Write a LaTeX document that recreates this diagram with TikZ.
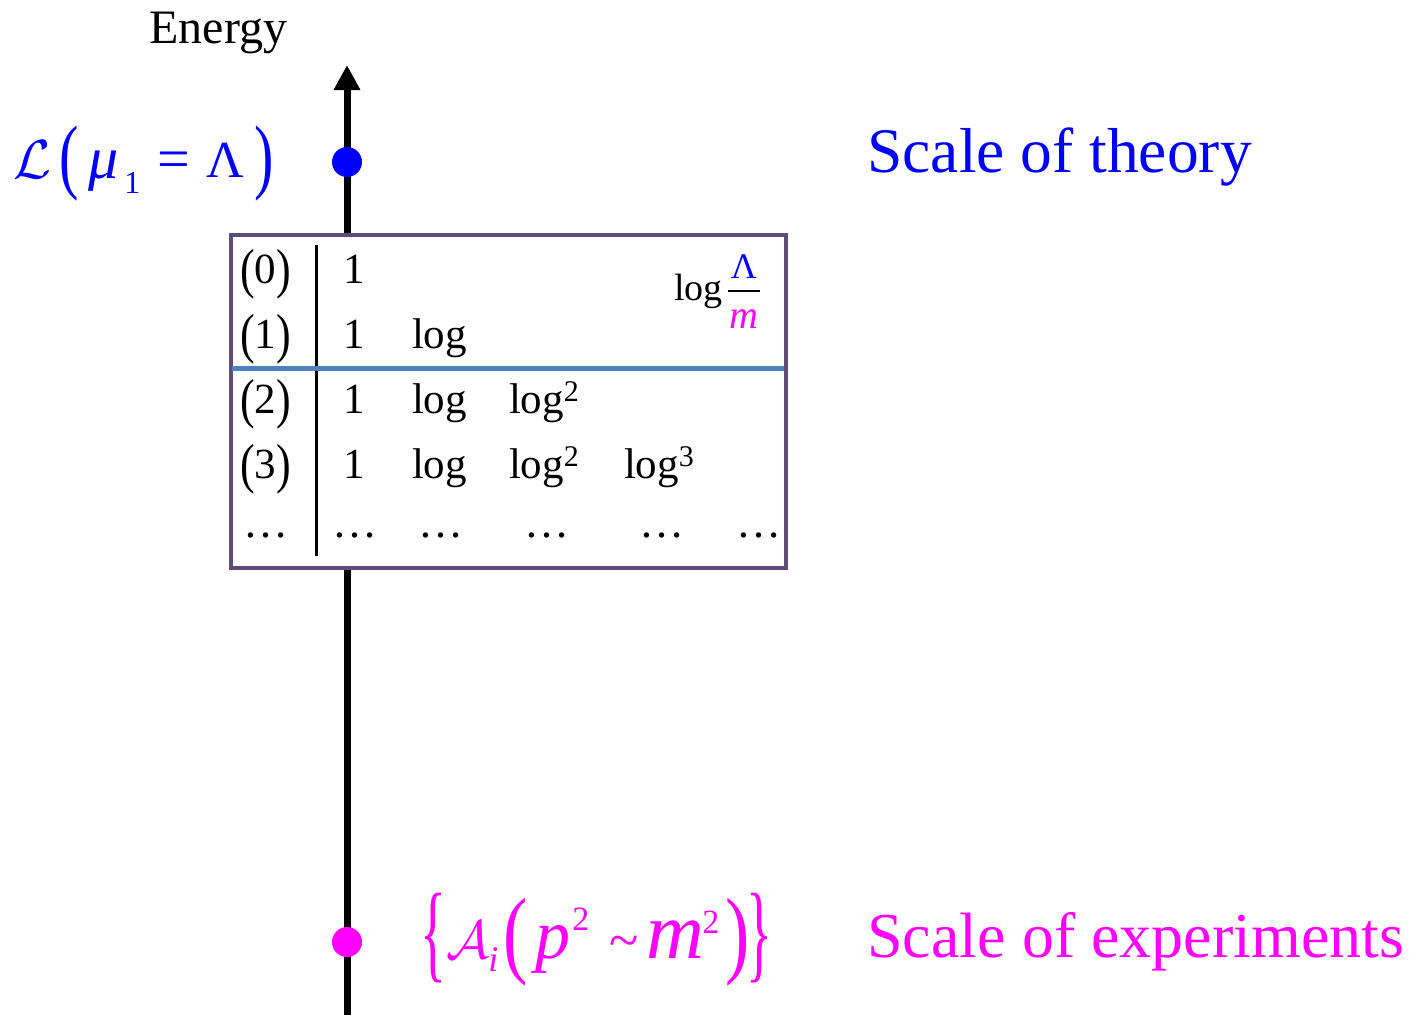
\documentclass[tikz,border=0pt]{standalone}
\usepackage{fontspec}
\setmainfont{Liberation Serif}
\usepackage{graphicx}
\usetikzlibrary{arrows.meta}
\definecolor{thblue}{RGB}{0,0,255}
\definecolor{exmag}{RGB}{255,0,255}
\definecolor{boxc}{RGB}{96,74,123}
\definecolor{sepc}{RGB}{79,129,189}
\newcommand\fs[1]{\fontsize{#1}{#1}\selectfont}
\newcommand\gl[4]{\rlap{\hspace*{#1pt}\raisebox{#2pt}{\fs{#3}#4}}}
\newcommand\lp{\raisebox{-4pt}{\fs{55}\scalebox{0.8}[1]{(}}}
\newcommand\rp{\raisebox{-4pt}{\fs{55}\scalebox{0.8}[1]{)}}}
\newcommand\sq[1]{\raisebox{12pt}{\fs{30}#1}}
\tikzset{
  txt/.style={inner sep=0pt, outer sep=0pt},
  axisline/.style={line width=7pt, -{Triangle[width=25pt,length=25pt]}},
  tablebox/.style={draw=boxc, line width=4pt, fill=white, inner sep=0pt,
    minimum width=555pt, minimum height=333pt},
  sepline/.style={draw=sepc, line width=5pt},
  colline/.style={draw=black, line width=2.5pt},
  fracbar/.style={draw=black, line width=2pt},
}
\begin{document}
\begin{tikzpicture}[x=1pt,y=-1pt]
\useasboundingbox (0,0) rectangle (1409,1015);
% axis
\coordinate (axisbot) at (347,1015);
\coordinate (axistop) at (347,65);
\draw[axisline] (axisbot) -- (axistop);
\node[txt, anchor=base west] (energy) at (149.4,43) {\fs{48}Energy};
% table box
\node[tablebox] (tbl) at (508,401) {};
\coordinate (vtop) at (316.5,245);
\coordinate (vbot) at (316.5,556);
\draw[colline] (vtop) -- (vbot);
\coordinate (sepL) at (232,368);
\coordinate (sepR) at (784,368);
\draw[sepline] (sepL) -- (sepR);
% row labels
\node[txt, anchor=base] (lab0) at (265.5,283) {\lp\fs{43}0\rp};
\node[txt, anchor=base] (lab1) at (265.5,348) {\lp\fs{43}1\rp};
\node[txt, anchor=base] (lab2) at (265.5,413) {\lp\fs{43}2\rp};
\node[txt, anchor=base] (lab3) at (265.5,478) {\lp\fs{43}3\rp};
\node[txt, anchor=base] (labd) at (266,537) {\fs{45}…};
% column 1
\node[txt, anchor=base] (one0) at (354.5,283) {\fs{43}1};
\node[txt, anchor=base] (one1) at (354.5,348) {\fs{43}1};
\node[txt, anchor=base] (one2) at (354.5,413) {\fs{43}1};
\node[txt, anchor=base] (one3) at (354.5,478) {\fs{43}1};
\node[txt, anchor=base] (oned) at (354.5,537) {\fs{45}…};
% column log
\node[txt, anchor=base west] (lg1) at (412,348) {\fs{43}log};
\node[txt, anchor=base west] (lg2) at (412,413) {\fs{43}log};
\node[txt, anchor=base west] (lg3) at (412,478) {\fs{43}log};
\node[txt, anchor=base] (lgd) at (441,537) {\fs{45}…};
% column log^2
\node[txt, anchor=base west] (lgs2) at (509,413) {\fs{43}log\sq{2}};
\node[txt, anchor=base west] (lgs3) at (509,478) {\fs{43}log\sq{2}};
\node[txt, anchor=base] (lgsd) at (547,537) {\fs{45}…};
% column log^3
\node[txt, anchor=base west] (lgc3) at (624,478) {\fs{43}log\sq{3}};
\node[txt, anchor=base] (lgcd) at (662,537) {\fs{45}…};
\node[txt, anchor=base] (lastd) at (759,537) {\fs{45}…};
% fraction log Lambda/m
\node[txt, anchor=base west] (flog) at (674,300) {\fs{38}log};
\node[txt, anchor=base, text=thblue] (fnum) at (744,278) {\fs{36}Λ};
\node[txt, anchor=base, text=exmag] (fden) at (744,328) {\fs{40}\itshape m};
\coordinate (fbarL) at (728,291);
\coordinate (fbarR) at (760,291);
\draw[fracbar] (fbarL) -- (fbarR);
% scale points
\fill[thblue] (347,162) circle[radius=15];
\fill[exmag] (347,942) circle[radius=15];
% theory formula
\node[txt, anchor=base west, text=thblue] (lagr) at (0,178) {%
\gl{13}{0}{10}{\scalebox{5.5}{$\mathcal{L}$}}%
\gl{59}{-5}{83}{\scalebox{0.7}[1]{(}}%
\gl{88}{0}{60}{\itshape μ}%
\gl{124}{-15}{32}{1}%
\gl{157}{0}{58}{=}%
\gl{206}{1}{52}{Λ}%
\gl{254}{-5}{83}{\scalebox{0.7}[1]{)}}};
% experiment formula
\node[txt, anchor=base west, text=exmag] (ampl) at (0,958) {%
\gl{419.6}{-10.4}{100}{\scalebox{0.54}[1.085]{\{}}%
\gl{446}{0}{10}{\scalebox{5.4}{$\mathcal{A}$}}%
\gl{488}{-13.5}{36}{\itshape i}%
\gl{503.5}{-7.6}{97}{\scalebox{0.75}[1]{(}}%
\gl{535}{0}{70}{\itshape p}%
\gl{572}{28}{34}{2}%
\gl{609}{0}{54}{\textasciitilde}%
\gl{646}{0}{80}{\itshape m}%
\gl{702}{25}{34}{2}%
\gl{725}{-7.6}{97}{\scalebox{0.75}[1]{)}}%
\gl{746}{-10.4}{100}{\scalebox{0.54}[1.085]{\}}}};
% right labels
\node[txt, anchor=base west, text=thblue] (sth) at (867.4,172) {\fs{63.5}Scale of theory};
\node[txt, anchor=base west, text=exmag] (sex) at (867.4,957) {\fs{64}Scale of experiments};
\end{tikzpicture}
\end{document}
